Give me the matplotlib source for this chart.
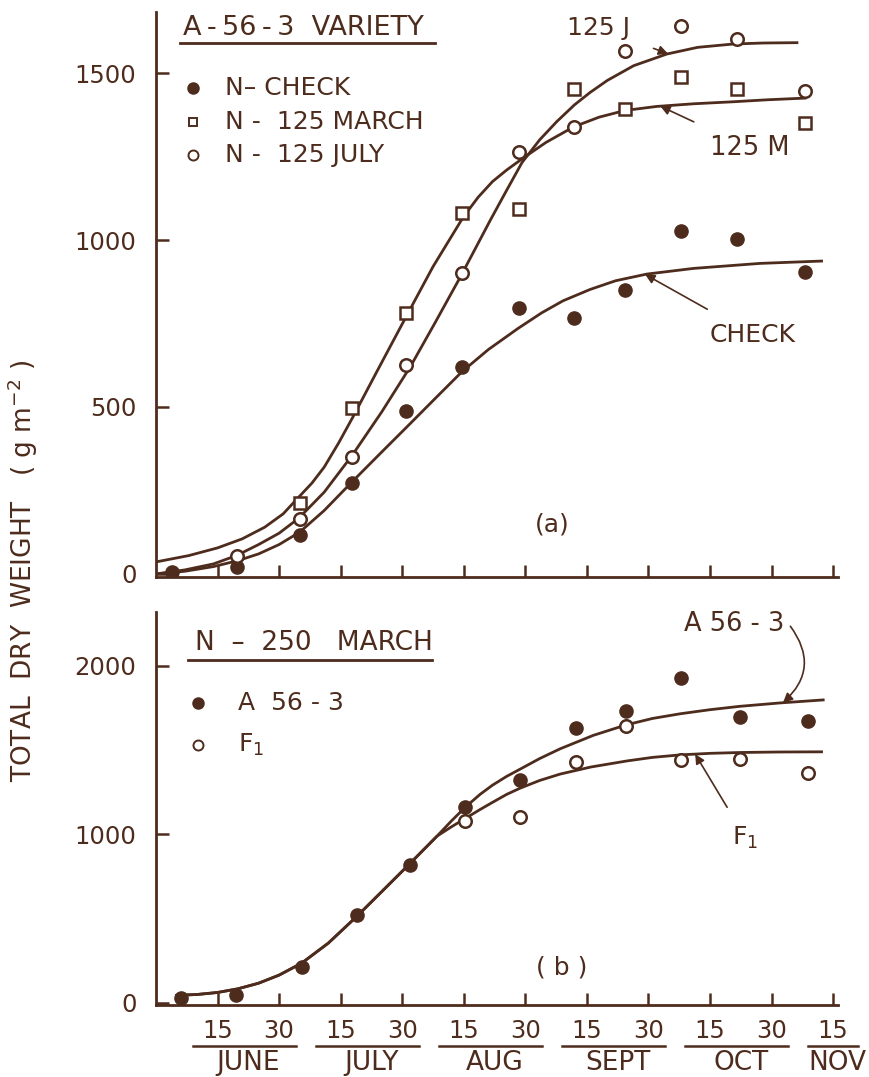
import numpy as np
import matplotlib
matplotlib.use("Agg")
import matplotlib.pyplot as plt

INK = "#4e2c1d"
plt.rcParams['font.family'] = ['DejaVu Sans']
plt.rcParams['mathtext.default'] = 'regular'

# x axis: days counted from 1 June, a tick every 15 days
tick_pos = [15, 30, 45, 60, 75, 90, 105, 120, 135, 150, 165]
tick_lab = ["15", "30"] * 5 + ["15"]
months = ["JUNE", "JULY", "AUG", "SEPT", "OCT", "NOV"]

# (a) A-56-3 variety - sampled dry weight (g m-2)
days_a = [4, 19.7, 35, 47.8, 61, 74.6, 88.4, 101.8, 114.2, 128, 141.6, 158.2]
check_pts = [5, 20, 117, 273, 488, 621, 796, 766, 850, 1027, 1003, 904]
march_pts = [np.nan, np.nan, 212, 498, 782, 1080, 1092, 1451, 1391, 1487, 1451, 1351]
july_pts = [np.nan, 54, 164, 351, 626, 900, 1264, 1339, 1567, 1641, 1601, 1447]

# (a) fitted curves
check_cx = [0, 7, 14, 20, 25, 30, 35, 41, 47.8, 55, 61.2, 68, 74.6, 81, 88.2, 94, 99.2,
            105.8, 112, 119.6, 131, 147.2, 162.2]
check_cy = [0, 8, 22, 40, 60, 88, 125, 190, 276, 365, 441, 525, 606, 672, 735, 782, 818,
            852, 878, 898, 915, 930, 937]
march_cx = [0, 8, 15, 21, 26.5, 31, 34.4, 38, 41, 44.5, 47.9, 54, 60.5, 67.5, 74.9, 78.5,
            82, 85.5, 89.2, 95, 101.8, 108, 114.3, 122, 131, 140.6, 149, 158.2]
march_cy = [36, 55, 78, 105, 140, 180, 225, 272, 320, 392, 468, 610, 760, 920, 1069, 1128,
            1175, 1210, 1243, 1292, 1339, 1368, 1388, 1400, 1408, 1414, 1420, 1425]
july_cx = [0, 7, 14, 19.6, 25, 30, 34.8, 41, 47.8, 55, 62, 68, 74.2, 81.5, 85.5, 89.2, 93.5,
           97.7, 102, 105.8, 110, 116.4, 124.5, 132, 140.7, 148, 156.2]
july_cy = [0, 12, 30, 55, 88, 122, 167, 245, 355, 485, 621, 752, 890, 1060, 1150, 1232, 1300,
           1355, 1405, 1442, 1478, 1522, 1557, 1577, 1587, 1590, 1591]

# (b) N-250 March
days_b = [6, 19.5, 35.5, 49, 61.8, 75.4, 88.8, 102.4, 114.6, 127.9, 142.3, 158.9]
a563_pts = [28, 48, 216, 524, 821, 1163, 1321, 1629, 1734, 1927, 1698, 1675]
f1_pts = [np.nan] * 5 + [1079, 1105, 1427, 1641, 1442, 1446, 1363]

base_cx = [5, 10, 15, 20, 25, 30, 35.5, 42, 49, 55, 61.8, 68.5]
base_cy = [45, 50, 62, 84, 117, 165, 236, 355, 515, 660, 825, 990]
a563_cx = base_cx + [72, 75.4, 79, 82, 85.5, 88.8, 93.5, 98.5, 106.6, 114.6, 121, 127.8,
                     135, 142.3, 152, 162.6]
a563_cy = base_cy + [1080, 1162, 1238, 1292, 1345, 1388, 1450, 1508, 1588, 1650, 1688, 1716,
                     1740, 1760, 1780, 1798]
f1_cx = base_cx + [72, 75.4, 79, 82, 85.5, 88.8, 93.5, 98.5, 106, 114.8, 121, 127.8,
                   135, 142.3, 152, 162.2]
f1_cy = base_cy + [1045, 1095, 1148, 1190, 1238, 1275, 1320, 1358, 1400, 1436, 1457, 1472,
                   1481, 1486, 1489, 1490]

fig = plt.figure(figsize=(8.69, 10.77), dpi=100)
fig.patch.set_facecolor("white")
ax1 = fig.add_axes([0.1795, 0.4643, 0.7848, 0.5246])
ax2 = fig.add_axes([0.1795, 0.0669, 0.7848, 0.3649])

filled = dict(marker='o', ms=9.5, mfc=INK, mec=INK, ls='none')
hollow = dict(marker='o', ms=9, mfc='white', mec=INK, mew=1.8, ls='none')
square = dict(marker='s', ms=8, mfc='white', mec=INK, mew=1.8, ls='none')
FS = 18

for ax in (ax1, ax2):
    for s in ('top', 'right'):
        ax.spines[s].set_visible(False)
    for s in ('left', 'bottom'):
        ax.spines[s].set_color(INK)
        ax.spines[s].set_linewidth(2.0)
    ax.set_xlim(0, 166.2)
    ax.set_xticks(tick_pos)
    ax.tick_params(direction='in', length=9, width=1.8, color=INK,
                   labelcolor=INK, labelsize=17.5, pad=10)
    ax.tick_params(axis='y', pad=14)

# ---- panel (a)
ax1.plot(check_cx, check_cy, color=INK, lw=2.0)
ax1.plot(march_cx, march_cy, color=INK, lw=2.0)
ax1.plot(july_cx, july_cy, color=INK, lw=2.0)
ax1.plot(days_a, check_pts, **filled)
ax1.plot(days_a, march_pts, **square)
ax1.plot(days_a, july_pts, **hollow)
ax1.set_ylim(-9, 1683)
ax1.set_yticks([0, 500, 1000, 1500])
ax1.set_xticklabels([])

arrow = dict(arrowstyle='-|>', color=INK, lw=1.2, mutation_scale=14)
ax1.annotate("125 J", xy=(124.8, np.interp(124.8, july_cx, july_cy)), xytext=(107.8, 1635),
             ha='center', va='center', fontsize=FS, color=INK,
             arrowprops=dict(arrow, shrinkA=16, shrinkB=0))
ax1.annotate("125 M", xy=(122.9, np.interp(122.9, march_cx, march_cy)), xytext=(144.8, 1275),
             ha='center', va='center', fontsize=18.5, color=INK,
             arrowprops=dict(arrow, shrinkA=18, shrinkB=0))
ax1.annotate("CHECK", xy=(119.2, np.interp(119.2, check_cx, check_cy)), xytext=(145.5, 716),
             ha='center', va='center', fontsize=FS, color=INK,
             arrowprops=dict(arrow, shrinkA=16, shrinkB=0))
ax1.text(96.6, 147, "(a)", ha='center', va='center', fontsize=FS, color=INK)

# legend (a)
ax1.text(0.04, 0.972, "A\u2009-\u200956\u2009-\u20093  VARIETY", transform=ax1.transAxes,
         fontsize=19.5, color=INK, va='center', ha='left')
ax1.plot([0.035, 0.409], [0.945, 0.945], transform=ax1.transAxes, color=INK, lw=2.0)
leg_a = [("N\u2013 CHECK", filled), ("N -  125 MARCH", square), ("N -  125 JULY", hollow)]
for i, (lab, sty) in enumerate(leg_a):
    yy = 0.8655 - i * 0.0595
    st = dict(sty)
    st['ms'] = st['ms'] * 0.8
    st['mew'] = 1.4
    ax1.plot([0.054], [yy], transform=ax1.transAxes, **st)
    ax1.text(0.101, yy, lab, transform=ax1.transAxes, fontsize=FS, color=INK,
             va='center', ha='left')

# ---- panel (b)
ax2.plot(a563_cx, a563_cy, color=INK, lw=2.0)
ax2.plot(f1_cx, f1_cy, color=INK, lw=2.0)
ax2.plot(days_b, a563_pts, **filled)
ax2.plot(days_b, f1_pts, **hollow)
ax2.set_ylim(-12, 2320)
ax2.set_yticks([0, 1000, 2000])
ax2.set_xticklabels(tick_lab)

ax2.text(140.9, 2250, "A 56 - 3", ha='center', va='center', fontsize=18.5, color=INK)
ax2.annotate("", xy=(152.8, np.interp(152.8, a563_cx, a563_cy)), xytext=(154.6, 2235),
             arrowprops=dict(arrow, shrinkA=0, shrinkB=0,
                             connectionstyle="arc3,rad=-0.45"))
ax2.annotate("F$_1$", xy=(131.4, np.interp(131.4, f1_cx, f1_cy)), xytext=(143.6, 982),
             ha='center', va='center', fontsize=FS, color=INK,
             arrowprops=dict(arrow, shrinkA=12, shrinkB=0))
ax2.text(98.8, 208, "( b )", ha='center', va='center', fontsize=FS, color=INK)

ax2.text(0.057, 0.921, "N  \u2013  250   MARCH", transform=ax2.transAxes, fontsize=19,
         color=INK, va='center', ha='left')
ax2.plot([0.047, 0.405], [0.878, 0.878], transform=ax2.transAxes, color=INK, lw=2.0)
leg_b = [("A  56 - 3", filled), ("F$_1$", hollow)]
for i, (lab, sty) in enumerate(leg_b):
    yy = 0.768 - i * 0.106
    st = dict(sty)
    st['ms'] = st['ms'] * 0.8
    st['mew'] = 1.4
    ax2.plot([0.0616], [yy], transform=ax2.transAxes, **st)
    ax2.text(0.12, yy, lab, transform=ax2.transAxes, fontsize=FS, color=INK,
             va='center', ha='left')

# month names under the tick labels
xt = ax2.get_xaxis_transform()
for k, m in enumerate(months):
    t15 = tick_pos[2 * k]
    t30 = tick_pos[2 * k + 1] if 2 * k + 1 < len(tick_pos) else t15
    ax2.plot([t15 - 6, t30 + 4 if t30 > t15 else t15 + 6], [-0.104, -0.104],
             transform=xt, color=INK, lw=1.8, clip_on=False)
    ax2.text((t15 + t30) / 2 if t30 > t15 else t15 + 1, -0.148, m, transform=xt,
             ha='center', va='center', fontsize=19, color=INK, clip_on=False)

fig.text(0.026, 0.47, "TOTAL  DRY  WEIGHT   ( g m$^{-2}$ )", rotation=90,
         ha='center', va='center', fontsize=19, color=INK)

fig.savefig("out.png", dpi=100, facecolor=fig.get_facecolor())
